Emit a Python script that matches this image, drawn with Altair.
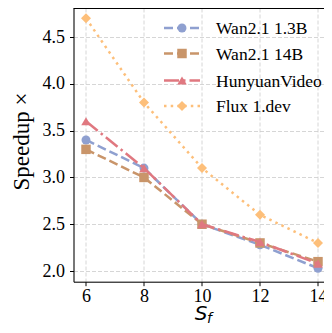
import altair as alt
import pandas as pd

sf = [6, 8, 10, 12, 14]
wan13 = [3.4, 3.1, 2.5, 2.28, 2.03]
wan14 = [3.3, 3.0, 2.5, 2.3, 2.1]
hunyuan = [3.6, 3.1, 2.5, 2.31, 2.08]
flux = [4.7, 3.8, 3.1, 2.6, 2.3]
names = ["Wan2.1 1.3B", "Wan2.1 14B", "HunyuanVideo", "Flux 1.dev"]
series = [wan13, wan14, hunyuan, flux]
colors = ["#8fa0d0", "#c9956a", "#e07880", "#fdbf7a"]
shapes = ["circle", "square", "triangle-up", "diamond"]
sizes = [80, 90, 90, 100]
dashes = [[9, 4], [9, 4], [15, 4, 2.5, 4], [2.5, 4.2]]
xticks = [6, 8, 10, 12, 14]
yticks = [2.0, 2.5, 3.0, 3.5, 4.0, 4.5]

W = 250.5
H = 273.7
OX = 73.5   # absolute x of plot origin
OY = 8.0    # absolute y of plot origin
SERIF = "Liberation Serif"
LW = 2.5

rows = []
for n, vals in zip(names, series):
    for x, v in zip(sf, vals):
        rows.append({"sf": x, "speedup": v, "model": n})
df = pd.DataFrame(rows)
one = pd.DataFrame({"k": [0]})

xs = alt.Scale(domain=[5.569, 14.207], nice=False, zero=False)
ys = alt.Scale(domain=[1.886, 4.81], nice=False, zero=False)

xaxis = alt.Axis(values=xticks, title=None, labelPadding=2, labelFlush=False)
yaxis = alt.Axis(values=yticks, format=".1f", title="Speedup ×",
                 titleX=28 - OX, titleY=141 - OY, titleBaseline="alphabetic",
                 titleAngle=270, labelPadding=5)

layers = []
for i, n in enumerate(names):
    base = alt.Chart(df).transform_filter(alt.datum.model == n)
    enc = dict(x=alt.X("sf:Q", scale=xs, axis=xaxis),
               y=alt.Y("speedup:Q", scale=ys, axis=yaxis))
    line = base.mark_line(color=colors[i], strokeWidth=LW, strokeDash=dashes[i]).encode(**enc)
    pts = base.mark_point(color=colors[i], filled=True, opacity=1, shape=shapes[i],
                          size=sizes[i]).encode(**enc)
    layers += [line, pts]

# top spine
layers.append(alt.Chart(one).mark_rule(color="black", strokeWidth=1).encode(
    x=alt.value(0), x2=alt.value(W + 5), y=alt.value(0.5)))

# legend
leg_y = [28, 53.5, 80.5, 106]
for i, n in enumerate(names):
    yv = leg_y[i] - OY
    layers.append(alt.Chart(one).mark_rule(color=colors[i], strokeWidth=LW,
                                             strokeDash=dashes[i]).encode(
        x=alt.value(164 - OX), x2=alt.value(200 - OX), y=alt.value(yv)))
    layers.append(alt.Chart(one).mark_point(color=colors[i], filled=True, opacity=1,
                                              shape=shapes[i], size=sizes[i]).encode(
        x=alt.value(182 - OX), y=alt.value(yv)))
    layers.append(alt.Chart(one).mark_text(text=n, font=SERIF, fontSize=17.5, fontWeight="normal",
                                             align="left", baseline="middle",
                                             color="black").encode(
        x=alt.value(216 - OX), y=alt.value(yv + 1)))

# x title S_f
layers.append(alt.Chart(one).mark_text(text="S", font="DejaVu Sans", fontStyle="italic",
                                         fontSize=20, align="center", baseline="alphabetic",
                                         color="black").encode(
    x=alt.value(201 - OX), y=alt.value(320 - OY)))
layers.append(alt.Chart(one).mark_text(text="f", font="DejaVu Sans", fontStyle="italic",
                                         fontSize=14, align="left", baseline="alphabetic",
                                         color="black").encode(
    x=alt.value(207 - OX), y=alt.value(323 - OY)))

chart = alt.layer(*layers).properties(
    width=W, height=H,
    autosize=alt.AutoSizeParams(type="none"),
    padding={"left": OX - 8, "top": OY - 8, "right": 0, "bottom": 317 - H},
).configure_view(stroke=None).configure(background="white").configure_axis(
    labelFont=SERIF, labelFontSize=18, labelColor="black", labelFontWeight="normal",
    titleFont=SERIF, titleFontSize=23, titleFontWeight="normal", titleColor="black",
    tickColor="black", tickSize=4, tickWidth=1,
    domainColor="black", domainWidth=1,
    grid=True, gridColor="#cccccc", gridDash=[4, 2], gridWidth=0.8,
)

chart.save("out.html", embed_options={"renderer": "svg", "actions": False})
